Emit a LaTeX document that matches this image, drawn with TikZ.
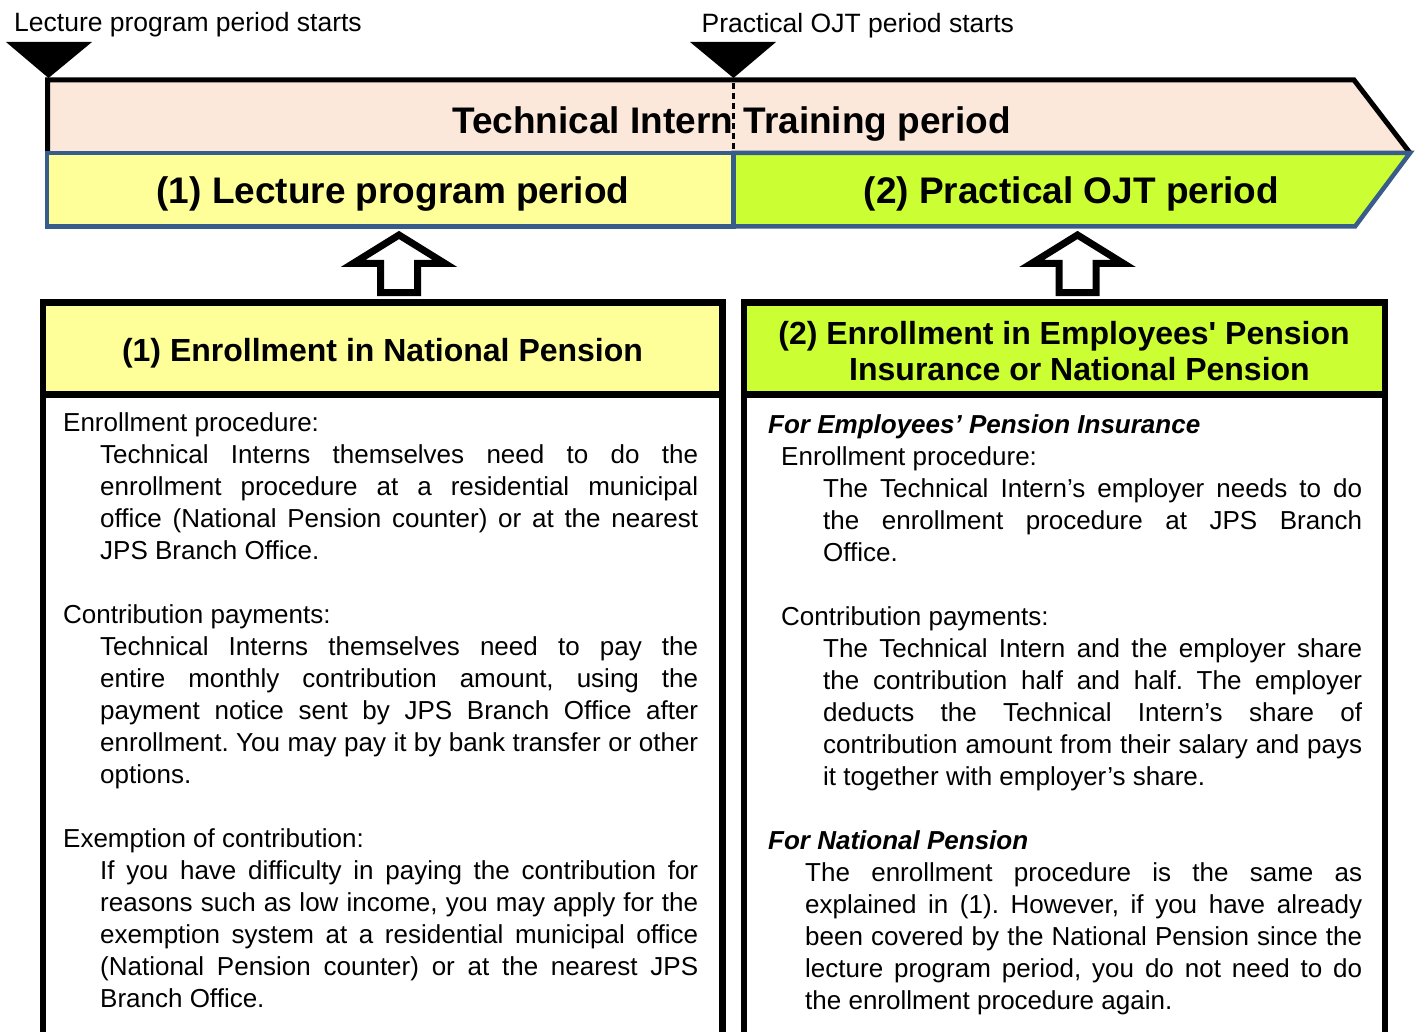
\documentclass[tikz,border=0pt]{standalone}
\usepackage{fontspec}
\setmainfont{Liberation Sans}
\definecolor{bandpink}{RGB}{252,232,218}
\definecolor{lecyellow}{RGB}{255,255,153}
\definecolor{ojtlime}{RGB}{204,255,51}
\definecolor{bandblue}{RGB}{56,93,138}
\begin{document}
\begin{tikzpicture}[x=1pt,y=-1pt,
  lbl/.style={inner sep=0pt, anchor=base west, font=\fontsize{26.5}{32}\selectfont},
  bandtxt/.style={inner sep=0pt, anchor=base, font=\fontsize{37}{44}\selectfont\bfseries},
  headtxt/.style={inner sep=0pt, anchor=base, font=\fontsize{32}{36}\selectfont\bfseries},
  bodytxt/.style={inner sep=0pt, anchor=north west, align=justify, font=\fontsize{26}{32}\selectfont\frenchspacing},
  bandline/.style={draw=bandblue, line width=4.5pt, line join=miter, miter limit=20},
  boxline/.style={draw=black, line width=6.5pt, line join=miter},
  uparrow/.style={draw=black, fill=white, line width=7pt, line join=miter, miter limit=20},
]
\useasboundingbox (0,0) rectangle (1418,1032);

% start markers
\fill (6,42) -- (92,42) -- (48.5,78) -- cycle;
\fill (690,42) -- (776,42) -- (733.5,78) -- cycle;
\node[lbl] (lecstart) at (14,32) {Lecture program period starts};
\node[lbl] (ojtstart) at (701.5,33) {Practical OJT period starts};

% training period band
\path[fill=bandpink, draw=black, line width=5pt, line join=miter, miter limit=20]
  (47.5,153) -- (47.5,80) -- (1354,80) -- (1410,153);
\draw[black, line width=2.5pt, dash pattern=on 6pt off 4pt] (733.5,83) -- (733.5,151);
\node[bandtxt] (training) at (731.5,134) {Technical Intern Training period};

% lower band
\path[bandline, fill=lecyellow] (47,153) rectangle (733.5,226.5);
\path[bandline, fill=ojtlime] (733.5,153) -- (1410,153) -- (1355,226.5) -- (733.5,226.5) -- cycle;
\node[bandtxt] (lecperiod) at (393,204) {(1) Lecture program period};
\node[bandtxt] (ojtperiod) at (1071.5,204) {(2) Practical OJT period};

% block arrows
\path[uparrow] (399,235) -- (445,263.5) -- (417.5,263.5) -- (417.5,292.5) -- (380.5,292.5) -- (380.5,263.5) -- (353,263.5) -- cycle;
\path[uparrow] (1077.5,235) -- (1123.5,263.5) -- (1096,263.5) -- (1096,292.5) -- (1059,292.5) -- (1059,263.5) -- (1031.5,263.5) -- cycle;

% left box
\fill[lecyellow] (43,302.5) rectangle (722.5,394.5);
\draw[boxline] (43,1032) -- (43,302.5) -- (722.5,302.5) -- (722.5,1032);
\draw[boxline] (43,394.5) -- (722.5,394.5);
\node[headtxt] (lhead) at (382.5,361) {(1) Enrollment in National Pension};

% right box
\fill[ojtlime] (744,302.5) rectangle (1385,394.5);
\draw[boxline] (744,1032) -- (744,302.5) -- (1385,302.5) -- (1385,1032);
\draw[boxline] (744,394.5) -- (1385,394.5);
\node[headtxt] (rheadA) at (1064,344.5) {(2) Enrollment in Employees\textquotesingle{} Pension};
\node[headtxt] (rheadB) at (1079.5,380.5) {Insurance or National Pension};

% left body
\node[bodytxt, text width=635pt] (lbody) at (63,408.8) {\parindent=0pt
\strut Enrollment procedure:\par
{\leftskip=37pt Technical Interns themselves need to do the\linebreak enrollment procedure at a residential municipal\linebreak office (National Pension counter) or at the nearest\linebreak JPS Branch Office.\par}
\vskip32pt
Contribution payments:\par
{\leftskip=37pt Technical Interns themselves need to pay the\linebreak entire monthly contribution amount, using the\linebreak payment notice sent by JPS Branch Office after\linebreak enrollment. You may pay it by bank transfer or other\linebreak options.\par}
\vskip32pt
Exemption of contribution:\par
{\leftskip=37pt If you have difficulty in paying the contribution for\linebreak reasons such as low income, you may apply for the\linebreak exemption system at a residential municipal office\linebreak (National Pension counter) or at the nearest JPS\linebreak Branch Office.\par}
};

% right body
\node[bodytxt, text width=594pt] (rbody) at (768,410.6) {\parindent=0pt
\strut{\bfseries\itshape For Employees’ Pension Insurance}\par
{\leftskip=13pt Enrollment procedure:\par}
{\leftskip=55pt The Technical Intern’s employer needs to do\linebreak the enrollment procedure at JPS Branch\linebreak Office.\par}
\vskip32pt
{\leftskip=13pt Contribution payments:\par}
{\leftskip=55pt The Technical Intern and the employer share\linebreak the contribution half and half. The employer\linebreak deducts the Technical Intern’s share of\linebreak contribution amount from their salary and pays\linebreak it together with employer’s share.\par}
\vskip32pt
{\bfseries\itshape For National Pension}\par
{\leftskip=37pt The enrollment procedure is the same as\linebreak explained in (1). However, if you have already\linebreak been covered by the National Pension since the\linebreak lecture program period, you do not need to do\linebreak the enrollment procedure again.\par}
};
\end{tikzpicture}
\end{document}
